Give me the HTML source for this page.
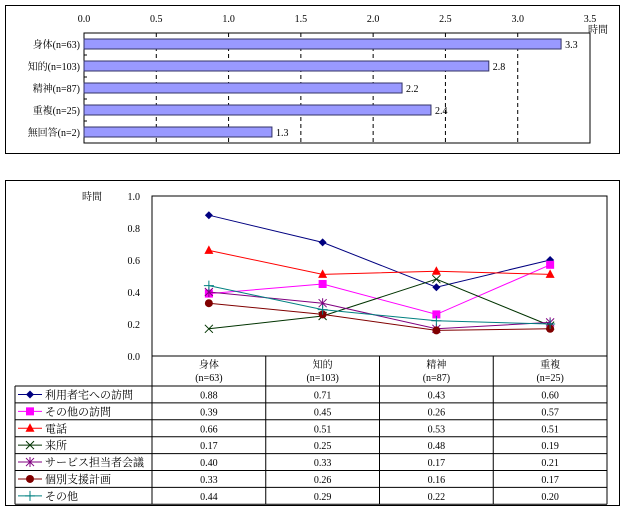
<!DOCTYPE html>
<html><head><meta charset="utf-8"><style>
body{margin:0;background:#fff;width:628px;height:510px;overflow:hidden}
svg text{font-family:"Liberation Serif","Noto Serif CJK SC",serif;font-size:10px;fill:#000}
svg text.leg{font-size:11px}
</style></head><body>
<svg id="s" width="628" height="510" xmlns="http://www.w3.org/2000/svg">
<rect x="5.5" y="5.5" width="614" height="148" fill="none" stroke="#000"/>
<rect x="5.5" y="180.5" width="614" height="325" fill="none" stroke="#000"/>
<g id="top"></g><g id="bot"></g>
</svg>
<script>
const barCats=["身体(n=63)","知的(n=103)","精神(n=87)","重複(n=25)","無回答(n=2)"];
const barVals=[3.3,2.8,2.2,2.4,1.3];
const barTicks=["0.0","0.5","1.0","1.5","2.0","2.5","3.0","3.5"];
const cats=["身体","知的","精神","重複"];
const catsN=["(n=63)","(n=103)","(n=87)","(n=25)"];
const seriesNames=["利用者宅への訪問","その他の訪問","電話","来所","サービス担当者会議","個別支援計画","その他"];
const s1=[0.88,0.71,0.43,0.60];
const s2=[0.39,0.45,0.26,0.57];
const s3=[0.66,0.51,0.53,0.51];
const s4=[0.17,0.25,0.48,0.19];
const s5=[0.40,0.33,0.17,0.21];
const s6=[0.33,0.26,0.16,0.17];
const s7=[0.44,0.29,0.22,0.20];
const yTicks=["0.0","0.2","0.4","0.6","0.8","1.0"];
const NS="http://www.w3.org/2000/svg";
function mk(p,t,a,txt){const e=document.createElementNS(NS,t);for(const k in a)e.setAttribute(k,a[k]);if(txt!=null)e.textContent=txt;p.appendChild(e);return e;}
const T=document.getElementById('top');
const x0=84,x1=590,py0=33,py1=143;
const bx=v=>x0+(x1-x0)*v/3.5;
const bandH=(py1-py0)/barCats.length;
let e;
e=mk(T,'rect',{x:x0,y:py0,width:x1-x0,height:py1-py0,fill:'none',stroke:'#000','stroke-width':1});

barTicks.forEach((t,i)=>{const v=parseFloat(t);const X=bx(v);
 if(i>0&&i<barTicks.length-1){e=mk(T,'line',{x1:X,y1:py0,x2:X,y2:py1,stroke:'#000','stroke-dasharray':'4,3'});}
 e=mk(T,'text',{x:X,y:22,'text-anchor':'middle'},t);});
e=mk(T,'text',{x:598,y:33,'text-anchor':'middle'},'時間');
barCats.forEach((c,i)=>{const cy=py0+bandH*(i+0.5);
 if(i>0){e=mk(T,'line',{x1:x0,y1:py0+bandH*i,x2:x0+3,y2:py0+bandH*i,stroke:'#000'});}
 e=mk(T,'rect',{x:x0,y:cy-5,width:bx(barVals[i])-x0,height:10,fill:'#9999ff',stroke:'#333366'});
 e=mk(T,'text',{x:bx(barVals[i])+4,y:cy+4},barVals[i].toFixed(1));
 e=mk(T,'text',{x:x0-4,y:cy+4,'text-anchor':'end'},c);});
const B=document.getElementById('bot');
const lx0=152,lx1=607,ly0=196,ly1=356,legX=15;
const cw=(lx1-lx0)/cats.length;
const cx=i=>lx0+cw*(i+0.5);
const ly=v=>ly1-(ly1-ly0)*v/1.0;
e=mk(B,'rect',{x:lx0,y:ly0,width:lx1-lx0,height:ly1-ly0,fill:'none',stroke:'#000'});
yTicks.forEach(t=>{const Y=ly(parseFloat(t));e=mk(B,'text',{x:140,y:Y+4,'text-anchor':'end'},t);});
e=mk(B,'text',{x:92,y:200,'text-anchor':'middle'},'時間');
const rowTop=386,rowH=16.9;const nR=seriesNames.length;
e=mk(B,'line',{x1:lx0,y1:ly1,x2:lx0,y2:rowTop+rowH*nR,stroke:'#000'});
for(let i=1;i<cats.length;i++){e=mk(B,'line',{x1:lx0+cw*i,y1:ly1,x2:lx0+cw*i,y2:rowTop+rowH*nR,stroke:'#000'});}
e=mk(B,'line',{x1:lx1,y1:ly1,x2:lx1,y2:rowTop+rowH*nR,stroke:'#000'});
e=mk(B,'line',{x1:legX,y1:rowTop,x2:legX,y2:rowTop+rowH*nR,stroke:'#000'});
for(let r=0;r<=nR;r++){e=mk(B,'line',{x1:legX,y1:rowTop+rowH*r,x2:lx1,y2:rowTop+rowH*r,stroke:'#000'});}
cats.forEach((c,i)=>{e=mk(B,'text',{x:cx(i),y:368,'text-anchor':'middle'},c);
 e=mk(B,'text',{x:cx(i),y:381,'text-anchor':'middle'},catsN[i]);});
const series=[s1,s2,s3,s4,s5,s6,s7];
const colors=['#000080','#ff00ff','#ff0000','#003300','#800080','#800000','#008080'];
const marks=['diamond','square','triangle','x','star','circle','plus'];
function marker(g,m,X,Y,col){
 if(m==='diamond')return mk(g,'polygon',{points:`${X},${Y-4} ${X+4},${Y} ${X},${Y+4} ${X-4},${Y}`,fill:col});
 if(m==='square')return mk(g,'rect',{x:X-4,y:Y-4,width:8,height:8,fill:col});
 if(m==='triangle')return mk(g,'polygon',{points:`${X},${Y-5} ${X+4.5},${Y+3.5} ${X-4.5},${Y+3.5}`,fill:col});
 if(m==='circle')return mk(g,'circle',{cx:X,cy:Y,r:4,fill:col});
 if(m==='x')return mk(g,'path',{d:`M${X-4},${Y-4}L${X+4},${Y+4}M${X-4},${Y+4}L${X+4},${Y-4}`,stroke:col,fill:'none'});
 if(m==='plus')return mk(g,'path',{d:`M${X-5},${Y}L${X+5},${Y}M${X},${Y-5}L${X},${Y+5}`,stroke:col,fill:'none'});
 return mk(g,'path',{d:`M${X-4},${Y-4}L${X+4},${Y+4}M${X-4},${Y+4}L${X+4},${Y-4}M${X},${Y-5}L${X},${Y+5}`,stroke:col,fill:'none'});
}
series.forEach((vals,si)=>{const g=mk(B,'g',{});
 
 const pts=vals.map((v,i)=>cx(i)+','+ly(v)).join(' ');
 e=mk(g,'polyline',{points:pts,fill:'none',stroke:colors[si],'stroke-width':1});
 vals.forEach((v,i)=>{e=marker(g,marks[si],cx(i),ly(v),colors[si]);
  e=mk(B,'text',{x:cx(i),y:rowTop+rowH*si+12.5,'text-anchor':'middle'},v.toFixed(2));});
 const ry=rowTop+rowH*(si+0.5);
 e=mk(B,'line',{x1:18,y1:ry,x2:42,y2:ry,stroke:colors[si]});
 e=marker(B,marks[si],30,ry,colors[si]);
 e=mk(B,'text',{x:45,y:ry+4,'class':'leg'},seriesNames[si]);
});
</script>
</body></html>
